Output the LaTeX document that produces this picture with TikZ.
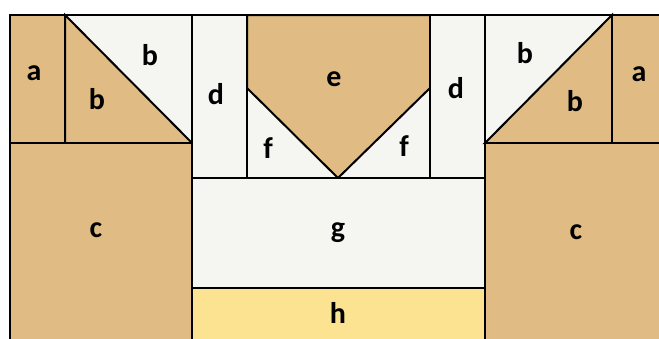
\documentclass[tikz,border=0pt]{standalone}
\usepackage{fontspec}
\setmainfont{Carlito}
\definecolor{Tan}{HTML}{E0BC84}
\definecolor{Offwhite}{HTML}{F5F5F1}
\definecolor{Butter}{HTML}{FBE392}

\begin{document}
\begin{tikzpicture}[x=0.5pt,y=-0.5pt,line width=1pt,
  patch/.style={draw=black},
  lbl/.style={font=\fontsize{15}{18}\selectfont\bfseries,inner sep=0pt}]
  \useasboundingbox (0,0) rectangle (659,338);
  \clip (0,0) rectangle (659,338);
  \fill[white] (0,0) rectangle (659,338);
  % left block
  \filldraw[patch,fill=Tan] (10,15) rectangle (65,143);
  \filldraw[patch,fill=Offwhite] (65,15) rectangle (192,143);
  \filldraw[patch,fill=Tan] (65,15) -- (192,143) -- (65,143) -- cycle;
  \filldraw[patch,fill=Tan] (10,143) rectangle (192,350);
  % middle block
  \filldraw[patch,fill=Offwhite] (192,15) rectangle (247,178);
  \filldraw[patch,fill=Offwhite] (247,15) rectangle (430,178);
  \filldraw[patch,fill=Tan] (247,15) -- (430,15) -- (430,88) -- (338,178) -- (247,88) -- cycle;
  \filldraw[patch,fill=Offwhite] (430,15) rectangle (485,178);
  \filldraw[patch,fill=Offwhite] (192,178) rectangle (485,288);
  \filldraw[patch,fill=Butter] (192,288) rectangle (485,350);
  % right block
  \filldraw[patch,fill=Offwhite] (485,15) rectangle (612,143);
  \filldraw[patch,fill=Tan] (612,15) -- (612,143) -- (485,143) -- cycle;
  \filldraw[patch,fill=Tan] (612,15) rectangle (670,143);
  \filldraw[patch,fill=Tan] (485,143) rectangle (670,350);
  % labels
  \node[lbl] (aL)  at (34,73)   {a};
  \node[lbl] (bLt) at (97,99)   {b};
  \node[lbl] (bLw) at (150,55)  {b};
  \node[lbl] (dL)  at (216,94)  {d};
  \node[lbl] (e)   at (334,79)  {e};
  \node[lbl] (fL)  at (268,148) {f};
  \node[lbl] (fR)  at (404,146) {f};
  \node[lbl] (dR)  at (456,88)  {d};
  \node[lbl] (bRw) at (525,53)  {b};
  \node[lbl] (bRt) at (575,101) {b};
  \node[lbl] (aR)  at (639,74)  {a};
  \node[lbl] (cL)  at (96,230)  {c};
  \node[lbl] (g)   at (338,233) {g};
  \node[lbl] (cR)  at (576,232) {c};
  \node[lbl] (h)   at (338,313) {h};
\end{tikzpicture}
\end{document}
